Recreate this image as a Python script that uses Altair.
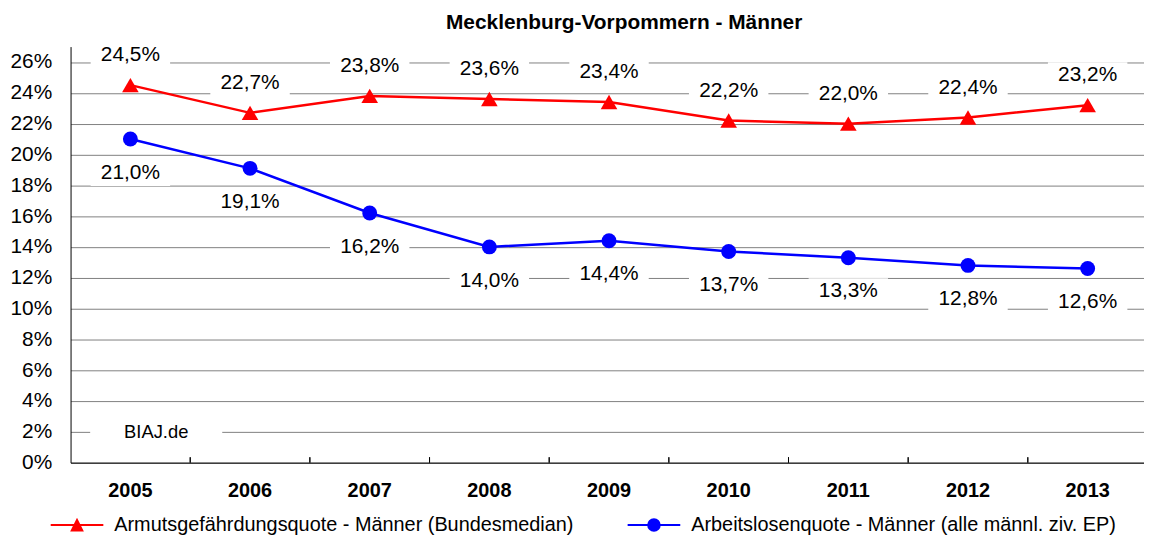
import altair as alt
import pandas as pd

years = ["2005", "2006", "2007", "2008", "2009", "2010", "2011", "2012", "2013"]
armut = [24.5, 22.7, 23.8, 23.6, 23.4, 22.2, 22.0, 22.4, 23.2]
alq = [21.0, 19.1, 16.2, 14.0, 14.4, 13.7, 13.3, 12.8, 12.6]
series_names = [
    "Armutsgefährdungsquote - Männer (Bundesmedian)",
    "Arbeitslosenquote - Männer (alle männl. ziv. EP)",
]
colors = ["#ff0000", "#0000ff"]
y_ticks = list(range(0, 27, 2))
chart_title = "Mecklenburg-Vorpommern - Männer"
watermark = "BIAJ.de"

rows = []
for s, vals in zip(series_names, [armut, alq]):
    for yr, v in zip(years, vals):
        rows.append({"year": yr, "value": v, "series": s,
                     "label": f"{v:.1f}".replace(".", ",") + "%"})
df = pd.DataFrame(rows)
df_w = pd.DataFrame({"year": [years[0]], "value": [2], "label": [watermark]})

FONT = "Liberation Sans"
RECT = "M-1,-0.333L1,-0.333L1,0.333L-1,0.333Z"
RECT_W = "M-1,-0.165L1,-0.165L1,0.165L-1,0.165Z"
LEG_TRI = "M-1,0L1,0M0,-0.19L0.2,0.21L-0.2,0.21Z"
LEG_CIR = "M-1,0L1,0M0.22,0A0.22,0.22,0,1,1,-0.22,0A0.22,0.22,0,1,1,0.22,0Z"

x_scale = alt.Scale(type="band", range=[0, 1084.5], paddingInner=0, paddingOuter=0)
x_axis = alt.Axis(title=None, labelAngle=0, labelFontWeight="bold", labelFontSize=20,
                  labelFont=FONT, labelColor="black", labelPadding=18, ticks=False,
                  tickSize=0, grid=False, domainColor="black", domainWidth=1,
                  labelOverlap=False)
y_scale = alt.Scale(domain=[0, 27], nice=False)
y_axis = alt.Axis(title=None, values=y_ticks, labelExpr="datum.value + '%'",
                  labelFontSize=21, labelFont=FONT, labelColor="black", labelPadding=19,
                  ticks=False, tickSize=0, grid=True, gridColor="#808080", gridWidth=1,
                  domainColor="black", domainWidth=1, labelOverlap=False)
x_enc = alt.X("year:O", scale=x_scale, axis=x_axis)
y_enc = alt.Y("value:Q", scale=y_scale, axis=y_axis)

base = alt.Chart(df)
layers = []

# white label boxes
for s, off in zip(series_names, [-30, 34]):
    layers.append(
        base.transform_filter(alt.datum.series == s)
        .mark_point(shape=RECT, filled=True, color="white", size=6400, opacity=1,
                    strokeWidth=0, yOffset=off)
        .encode(x=x_enc, y=y_enc)
    )

# x ticks between categories
layers.append(
    base.transform_filter(alt.datum.year != years[0])
    .mark_rule(color="black", strokeWidth=1)
    .encode(x=alt.X("year:O", bandPosition=0, scale=x_scale, axis=x_axis),
            y=alt.Y(datum=0, scale=y_scale, axis=y_axis), y2=alt.datum(0.35))
)

# lines
for s, c in zip(series_names, colors):
    layers.append(
        base.transform_filter(alt.datum.series == s)
        .mark_line(color=c, strokeWidth=2.5)
        .encode(x=x_enc, y=y_enc)
    )

# markers
layers.append(
    base.transform_filter(alt.datum.series == series_names[0])
    .mark_point(shape="triangle-up", filled=True, color=colors[0], size=280, opacity=1)
    .encode(x=x_enc, y=y_enc)
)
layers.append(
    base.transform_filter(alt.datum.series == series_names[1])
    .mark_point(shape="circle", filled=True, color=colors[1], size=225, opacity=1)
    .encode(x=x_enc, y=y_enc)
)

# data labels
for s, off in zip(series_names, [-30, 34]):
    layers.append(
        base.transform_filter(alt.datum.series == s)
        .mark_text(font=FONT, fontSize=21, color="black", yOffset=off)
        .encode(x=x_enc, y=y_enc, text="label:N")
    )

# watermark
wbase = alt.Chart(df_w)
layers.append(
    wbase.mark_point(shape=RECT_W, filled=True, color="white", size=17689, opacity=1,
                     strokeWidth=0, xOffset=26)
    .encode(x=x_enc, y=y_enc)
)
layers.append(
    wbase.mark_text(font=FONT, fontSize=18.5, color="black", xOffset=26)
    .encode(x=x_enc, y=y_enc, text="label:N")
)

# legend layer (no data drawn)
leg = alt.Legend(title=None, orient="none", legendX=-21, legendY=454, direction="horizontal",
                 symbolSize=2809, symbolStrokeWidth=2, symbolOpacity=1,
                 labelFont=FONT, labelFontSize=20, labelColor="black", labelOffset=10,
                 columnPadding=50, labelLimit=1000, padding=0)
layers.append(
    base.transform_filter("false")
    .mark_point(filled=True, opacity=1, strokeWidth=2)
    .encode(
        fill=alt.Fill("series:N", scale=alt.Scale(domain=series_names, range=colors), legend=leg),
        stroke=alt.Stroke("series:N", scale=alt.Scale(domain=series_names, range=colors), legend=leg),
        shape=alt.Shape("series:N", scale=alt.Scale(domain=series_names, range=[LEG_TRI, LEG_CIR]),
                        legend=leg),
    )
)

chart = (
    alt.layer(*layers)
    .properties(
        width=1081, height=419,
        title=alt.TitleParams(text=chart_title, font=FONT, fontSize=21, fontWeight="bold",
                              anchor="middle", offset=9, color="black", dx=17),
        autosize=alt.AutoSizeParams(type="none"),
        padding={"left": 63, "top": 37, "right": 0, "bottom": 72},
        background="white",
    )
    .configure_view(stroke=None)
)

chart.save("out.html", embed_options={"renderer": "svg", "actions": False})
